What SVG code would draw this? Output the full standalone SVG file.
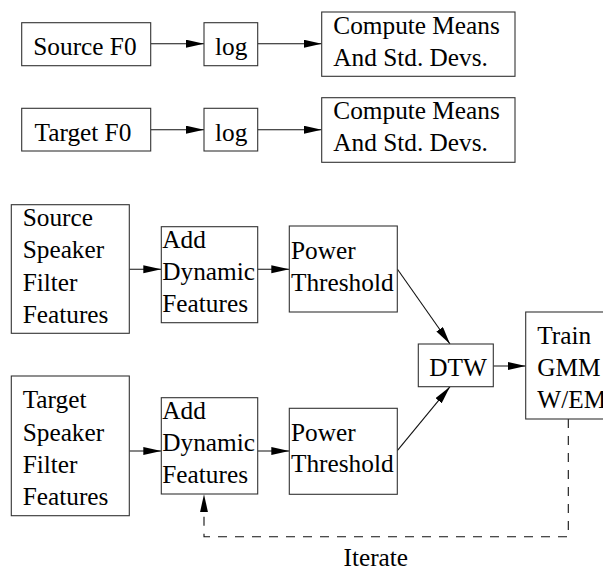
<svg xmlns="http://www.w3.org/2000/svg" width="603" height="569" viewBox="0 0 603 569" font-family="'Liberation Serif', 'Times New Roman', serif">
<style>
  rect { fill: #fff; stroke: #333; stroke-width: 1.1; }
  text { font-family: "Liberation Serif", "Times New Roman", serif; font-size: 25.3px; fill: #000; }
  .c { fill: none; stroke: #111; stroke-width: 1.1; }
  .d { stroke-dasharray: 9 8; }
</style>
<defs>
  <marker id="ah" markerUnits="userSpaceOnUse" markerWidth="19" markerHeight="9" refX="18" refY="4" orient="auto">
    <path d="M0,0 L18,4 L0,8 z" fill="#000"/>
  </marker>
</defs>

<g id="connectors">
  <line class="c" x1="150.7" y1="43.7" x2="204" y2="43.7" marker-end="url(#ah)"/>
  <line class="c" x1="257.7" y1="43.7" x2="321.7" y2="43.7" marker-end="url(#ah)"/>
  <line class="c" x1="150.7" y1="129.7" x2="204" y2="129.7" marker-end="url(#ah)"/>
  <line class="c" x1="257.7" y1="129.7" x2="321.7" y2="129.7" marker-end="url(#ah)"/>
  <line class="c" x1="129.3" y1="269.3" x2="161.3" y2="269.3" marker-end="url(#ah)"/>
  <line class="c" x1="257.7" y1="269.3" x2="289.3" y2="269.3" marker-end="url(#ah)"/>
  <line class="c" x1="129.3" y1="451" x2="161.3" y2="451" marker-end="url(#ah)"/>
  <line class="c" x1="257.7" y1="451" x2="289.3" y2="451" marker-end="url(#ah)"/>
  <line class="c" x1="397.3" y1="269" x2="450" y2="344" marker-end="url(#ah)"/>
  <line class="c" x1="397.3" y1="450.7" x2="450" y2="386.7" marker-end="url(#ah)"/>
  <line class="c" x1="493.3" y1="366" x2="525.7" y2="366" marker-end="url(#ah)"/>
  <polyline class="c d" points="568.3,419 568.3,536.7 204,536.7 204,494.3" marker-end="url(#ah)"/>
</g>

<g id="source-f0">
  <rect x="21.7" y="22.7" width="129" height="43"/>
  <text x="33.3" y="55">Source F0</text>
</g>
<g id="log-1">
  <rect x="204" y="22.7" width="53.7" height="43"/>
  <text x="215" y="55">log</text>
</g>
<g id="compute-1">
  <rect x="321.7" y="12" width="193.3" height="64.3"/>
  <text x="333.3" y="34.3">Compute Means</text>
  <text x="333.3" y="65.7">And Std. Devs.</text>
</g>

<g id="target-f0">
  <rect x="21.7" y="108.3" width="129" height="42.7"/>
  <text x="34.5" y="140.7">Target F0</text>
</g>
<g id="log-2">
  <rect x="204" y="108.3" width="53.7" height="42.7"/>
  <text x="215" y="140.7">log</text>
</g>
<g id="compute-2">
  <rect x="321.7" y="97.7" width="193.3" height="64.6"/>
  <text x="333.3" y="119">Compute Means</text>
  <text x="333.3" y="150.7">And Std. Devs.</text>
</g>

<g id="source-speaker">
  <rect x="11.3" y="204.7" width="118" height="128.6"/>
  <text x="22.7" y="226">Source</text>
  <text x="22.7" y="258.3">Speaker</text>
  <text x="22.7" y="290.7">Filter</text>
  <text x="22.7" y="322.7">Features</text>
</g>
<g id="add-dynamic-1">
  <rect x="161.3" y="226.7" width="96.4" height="96"/>
  <text x="162.3" y="248.3">Add</text>
  <text x="162.3" y="280">Dynamic</text>
  <text x="162.3" y="311.7">Features</text>
</g>
<g id="power-threshold-1">
  <rect x="289.3" y="226" width="108" height="86"/>
  <text x="291" y="259">Power</text>
  <text x="291" y="290.7">Threshold</text>
</g>

<g id="dtw">
  <rect x="418.3" y="344" width="75" height="42.7"/>
  <text x="429.3" y="376">DTW</text>
</g>
<g id="train-gmm">
  <rect x="525.7" y="312" width="100" height="107"/>
  <text x="537.3" y="344.3">Train</text>
  <text x="537.3" y="376">GMM</text>
  <text x="537.3" y="407.7">W/EM</text>
</g>

<g id="target-speaker">
  <rect x="11.3" y="376" width="118" height="139.7"/>
  <text x="22.7" y="408.3">Target</text>
  <text x="22.7" y="440.7">Speaker</text>
  <text x="22.7" y="472.7">Filter</text>
  <text x="22.7" y="505">Features</text>
</g>
<g id="add-dynamic-2">
  <rect x="161.3" y="397.7" width="96.4" height="96.3"/>
  <text x="162.3" y="419">Add</text>
  <text x="162.3" y="451">Dynamic</text>
  <text x="162.3" y="483.3">Features</text>
</g>
<g id="power-threshold-2">
  <rect x="289.3" y="408.3" width="108" height="86"/>
  <text x="291" y="440.7">Power</text>
  <text x="291" y="472.3">Threshold</text>
</g>

<g id="iterate-label">
  <text x="343.5" y="566">Iterate</text>
</g>
</svg>
